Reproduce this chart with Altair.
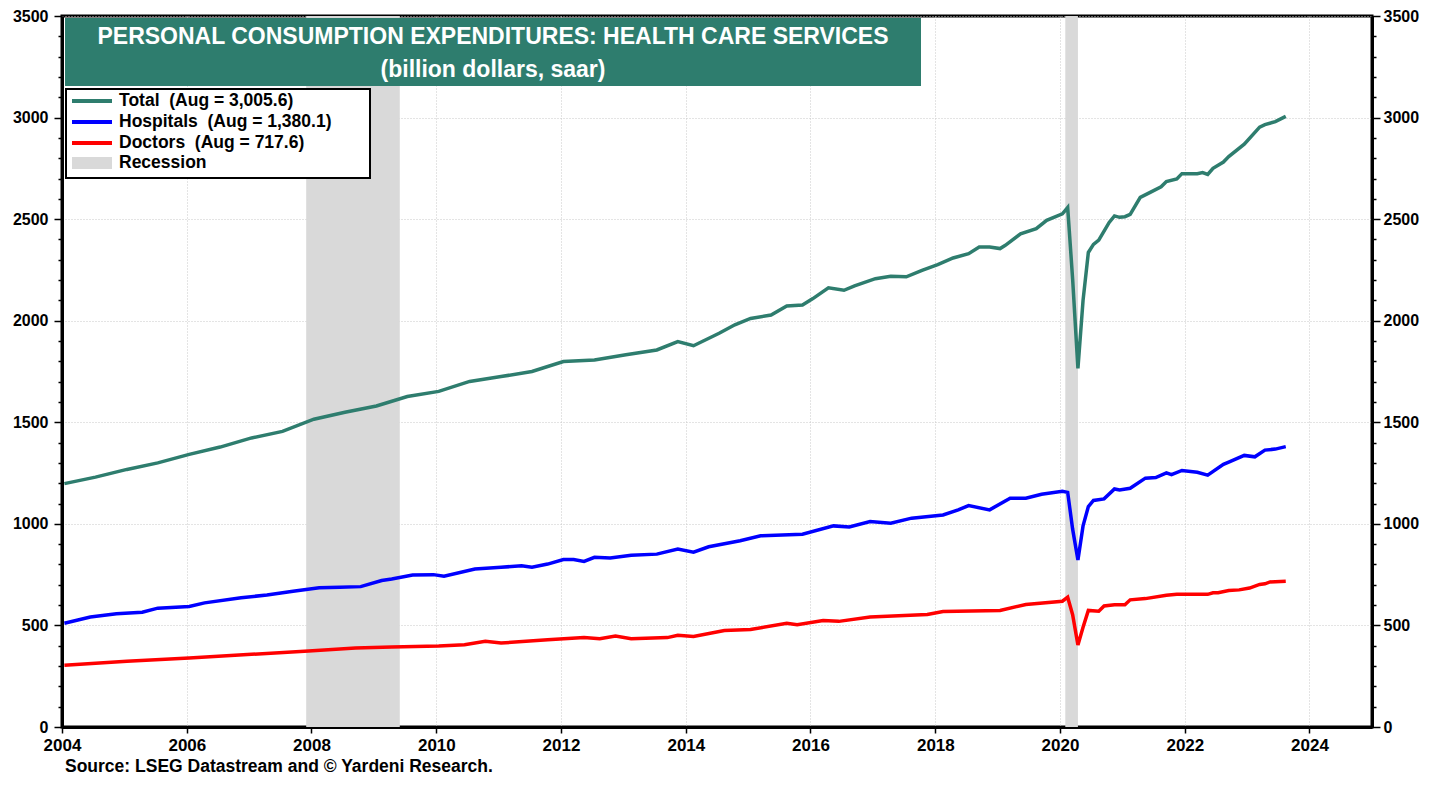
import altair as alt
import pandas as pd

# ---------------- data ----------------
total_months = ["2004-01","2004-07","2005-01","2005-07","2006-01","2006-07","2007-01","2007-07","2008-01","2008-07",
                "2009-01","2009-07","2010-01","2010-07","2011-01","2011-07","2012-01","2012-07","2013-01","2013-07",
                "2013-11","2014-02","2014-07","2014-10","2015-01","2015-05","2015-08","2015-11","2016-01","2016-04",
                "2016-07","2016-09","2017-01","2017-04","2017-07","2017-10","2018-01","2018-04","2018-07","2018-09",
                "2018-11","2019-01","2019-02","2019-05","2019-08","2019-10","2020-01","2020-02","2020-03","2020-04",
                "2020-05","2020-06","2020-07","2020-08","2020-09","2020-10","2020-11","2020-12","2021-01","2021-02",
                "2021-04","2021-06","2021-08","2021-09","2021-11","2021-12","2022-03","2022-04","2022-05","2022-06",
                "2022-08","2022-09","2022-12","2023-03","2023-04","2023-06","2023-08"]
total_values = [1198,1230,1268,1300,1342,1378,1423,1455,1515,1549,
                1580,1627,1652,1701,1725,1750,1799,1807,1832,1856,
                1897,1877,1938,1980,2011,2028,2073,2077,2109,2162,
                2150,2172,2207,2219,2216,2248,2276,2309,2330,2363,
                2363,2355,2371,2428,2453,2494,2526,2557,2205,1765,
                2100,2336,2376,2397,2441,2484,2516,2509,2512,2523,
                2607,2633,2659,2685,2698,2724,2724,2729,2720,2750,
                2781,2808,2869,2953,2965,2980,3005.6]

hosp_months = ["2004-01","2004-06","2004-11","2005-04","2005-07","2006-01","2006-04","2006-11","2007-04","2007-09",
               "2008-02","2008-06","2008-10","2009-02","2009-04","2009-08","2009-12","2010-02","2010-08","2011-01",
               "2011-05","2011-07","2011-10","2012-01","2012-03","2012-05","2012-07","2012-10","2013-02","2013-07",
               "2013-11","2014-02","2014-05","2014-11","2015-03","2015-11","2016-05","2016-08","2016-12","2017-04",
               "2017-08","2018-02","2018-05","2018-07","2018-11","2019-03","2019-06","2019-09","2020-01","2020-02",
               "2020-03","2020-04","2020-05","2020-06","2020-07","2020-09","2020-11","2020-12","2021-02","2021-05",
               "2021-07","2021-09","2021-10","2021-12","2022-03","2022-05","2022-08","2022-09","2022-12","2023-02",
               "2023-04","2023-06","2023-08"]
hosp_values = [511,541,557,565,585,593,611,636,650,668,
               685,688,691,721,729,748,750,742,778,786,
               794,786,802,824,824,815,835,832,846,851,
               876,861,887,917,941,949,990,985,1011,1003,
               1028,1044,1069,1090,1069,1126,1126,1146,1160,1155,
               974,822,990,1085,1115,1123,1172,1167,1175,1225,
               1228,1251,1242,1263,1254,1240,1293,1304,1337,1330,
               1363,1368,1380.1]

doc_months = ["2004-01","2005-01","2006-01","2007-01","2007-12","2008-09","2009-04","2010-01","2010-06","2010-10",
              "2011-01","2011-10","2012-05","2012-08","2012-11","2013-02","2013-09","2013-11","2014-02","2014-08",
              "2015-01","2015-08","2015-10","2016-03","2016-06","2016-12","2017-11","2018-02","2019-01","2019-06",
              "2020-01","2020-02","2020-03","2020-04","2020-05","2020-06","2020-08","2020-09","2020-11","2021-01",
              "2021-02","2021-05","2021-09","2021-11","2022-05","2022-06","2022-07","2022-09","2022-11","2023-01",
              "2023-03","2023-04","2023-05","2023-08"]
doc_values = [304,324,340,358,374,389,394,399,405,422,
              413,430,440,435,448,435,440,452,446,475,
              480,511,503,524,520,541,554,569,574,603,
              619,639,553,404,491,574,570,596,602,602,
              626,632,649,653,653,661,661,672,675,684,
              702,705,714,717.6]

series_names = ["Total", "Hospitals", "Doctors"]
series_colors = ["#2E7D6E", "#0000FF", "#FF0000"]
legend_labels = ["Total\u00a0\u00a0(Aug = 3,005.6)", "Hospitals\u00a0\u00a0(Aug = 1,380.1)",
                 "Doctors\u00a0\u00a0(Aug = 717.6)", "Recession"]

rec_start = ["2007-12-01", "2020-02-01"]
rec_end = ["2009-06-01", "2020-04-15"]

x_ticks = list(range(2004, 2025, 2))
y_ticks = list(range(0, 3501, 100))

title_line1 = "PERSONAL CONSUMPTION EXPENDITURES: HEALTH CARE SERVICES"
title_line2 = "(billion dollars, saar)"
source_text = "Source: LSEG Datastream and \u00a9 Yardeni Research."

# ---------------- build tables ----------------
def mk(months, values, name):
    return pd.DataFrame({"date": [m + "-15" for m in months], "value": values, "series": name})

lines_df = pd.concat([mk(total_months, total_values, "Total"),
                      mk(hosp_months, hosp_values, "Hospitals"),
                      mk(doc_months, doc_values, "Doctors")], ignore_index=True)
rec_df = pd.DataFrame({"start": rec_start, "end": rec_end})

W, H = 1310, 711
FONT = "Liberation Sans"
TEAL = "#2E7D6E"
GRAY = "#D9D9D9"

x_scale = alt.Scale(type="utc", domain=[alt.DateTime(year=2004, month=1, date=1, utc=True),
                                        alt.DateTime(year=2025, month=1, date=1, utc=True)])
y_scale = alt.Scale(domain=[0, 3500], nice=False, zero=True)

is_major = "datum.value % 500 === 0"

x_axis = alt.Axis(values=[alt.DateTime(year=y, month=1, date=1, utc=True) for y in x_ticks],
                  format="%Y", formatType="utc", title=None, grid=True, gridColor="#c8c8c8",
                  gridDash=[1, 2], gridWidth=1, tickSize=6, labelPadding=4, labelFlush=False,
                  labelFontSize=17)
y_left = alt.Axis(values=y_ticks, format="d", title=None, orient="left",
                  labelExpr=is_major + " ? datum.label : ''",
                  tickSize=alt.condition(is_major, alt.value(8), alt.value(4)),
                  grid=True, gridColor="#c8c8c8", gridDash=[1, 2], gridWidth=1,
                  gridOpacity=alt.condition(is_major, alt.value(1), alt.value(0)),
                  labelPadding=6, labelFontSize=16)
y_right = alt.Axis(values=y_ticks, format="d", title=None, orient="right",
                   labelExpr=is_major + " ? datum.label : ''",
                   tickSize=alt.condition(is_major, alt.value(8), alt.value(4)),
                   grid=False, labelPadding=3, labelFontSize=16)

color_scale = alt.Scale(domain=series_names, range=series_colors)

rec = alt.Chart(rec_df).mark_rect(color=GRAY).encode(
    x=alt.X("start:T", scale=x_scale, axis=x_axis),
    x2="end:T",
    y=alt.value(0), y2=alt.value(H))

line_total = alt.Chart(lines_df).transform_filter("datum.series === 'Total'").mark_line(strokeWidth=3.5).encode(
    x=alt.X("date:T", scale=x_scale, axis=x_axis),
    y=alt.Y("value:Q", scale=y_scale, axis=y_left),
    color=alt.Color("series:N", scale=color_scale, legend=None))

line_other = alt.Chart(lines_df).transform_filter("datum.series !== 'Total'").mark_line(strokeWidth=3.5).encode(
    x=alt.X("date:T", scale=x_scale, axis=x_axis),
    y=alt.Y("value:Q", scale=y_scale, axis=y_right),
    color=alt.Color("series:N", scale=color_scale, legend=None),
    detail="series:N")

one = pd.DataFrame({"t1": [title_line1], "t2": [title_line2], "src": [source_text]})

title_box = alt.Chart(one).mark_rect(color=TEAL).encode(
    x=alt.value(3), x2=alt.value(859), y=alt.value(2), y2=alt.value(70))
title1 = alt.Chart(one).mark_text(font=FONT, fontSize=23, fontWeight="bold", color="white",
                                  align="center", baseline="middle").encode(
    x=alt.value(431), y=alt.value(21), text="t1:N")
title2 = alt.Chart(one).mark_text(font=FONT, fontSize=23, fontWeight="bold", color="white",
                                  align="center", baseline="middle").encode(
    x=alt.value(431), y=alt.value(54), text="t2:N")

legend_box = alt.Chart(one).mark_rect(fill="white", stroke="black", strokeWidth=2).encode(
    x=alt.value(4), x2=alt.value(308), y=alt.value(73), y2=alt.value(162))

legend_layers = []
row_y = [85, 106, 127, 147]
for i, lab in enumerate(legend_labels):
    ldf = pd.DataFrame({"label": [lab]})
    if i < 3:
        sw = alt.Chart(ldf).mark_rule(color=series_colors[i], strokeWidth=4).encode(
            x=alt.value(10), x2=alt.value(50), y=alt.value(row_y[i]))
    else:
        sw = alt.Chart(ldf).mark_rect(color=GRAY).encode(
            x=alt.value(10), x2=alt.value(50), y=alt.value(row_y[i] - 6), y2=alt.value(row_y[i] + 6))
    tx = alt.Chart(ldf).mark_text(font=FONT, fontSize=17.5, fontWeight="bold", color="black",
                                  align="left", baseline="middle").encode(
        x=alt.value(57), y=alt.value(row_y[i]), text="label:N")
    legend_layers += [sw, tx]

source = alt.Chart(one).mark_text(font=FONT, fontSize=17.5, fontWeight="bold", color="black",
                                  align="left", baseline="middle").encode(
    x=alt.value(3), y=alt.value(H + 40), text="src:N")

chart = alt.layer(rec, line_total, line_other, title_box, title1, title2, legend_box,
                  *legend_layers, source).properties(
    width=W, height=H,
    padding={"left": 54, "top": 8, "right": 55, "bottom": 52},
    autosize=alt.AutoSizeParams(type="none"),
).configure_view(stroke="black", strokeWidth=3).configure_axis(
    domainColor="black", domainWidth=3, tickColor="black", tickWidth=1.5,
    labelFont=FONT, labelFontSize=16, labelFontWeight="bold", labelColor="black",
)

chart.save("out.html", embed_options={"renderer": "svg", "actions": False})
